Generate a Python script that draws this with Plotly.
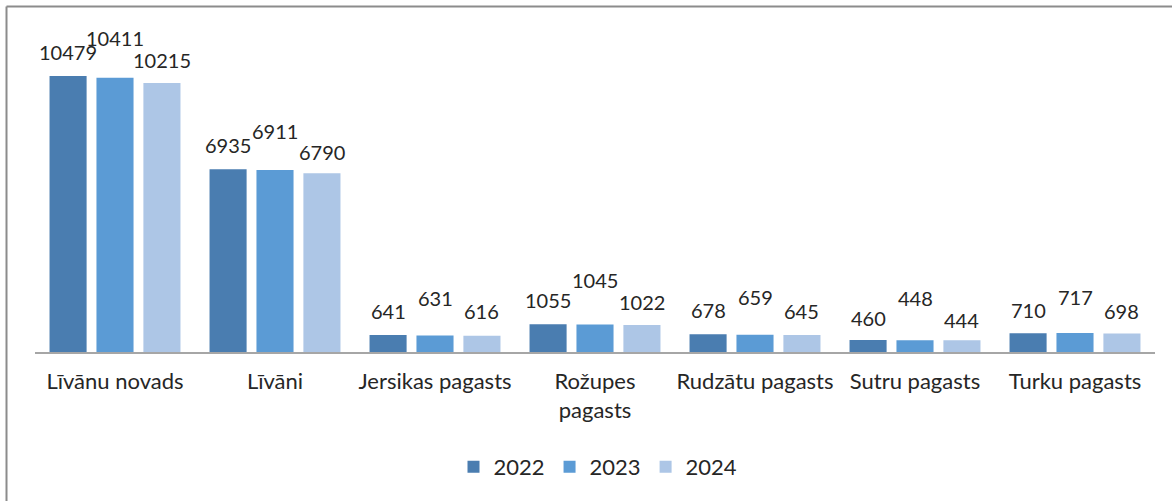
import plotly.graph_objects as go

categories = ["Līvānu novads", "Līvāni", "Jersikas pagasts", "Rožupes<br>pagasts",
              "Rudzātu pagasts", "Sutru pagasts", "Turku pagasts"]
years = ["2022", "2023", "2024"]
v2022 = [10479, 6935, 641, 1055, 678, 460, 710]
v2023 = [10411, 6911, 631, 1045, 659, 448, 717]
v2024 = [10215, 6790, 616, 1022, 645, 444, 698]

# label vertical offsets (px) to mimic staggered data labels
shift2022 = [24, 24, 24, 24, 24, 22, 23]
shift2023 = [40, 39, 37, 44, 38, 42, 36]
shift2024 = [23, 21, 25, 23, 24, 20, 23]

colors = ["#4a7db0", "#5b9bd5", "#adc6e6"]
series = [v2022, v2023, v2024]
shifts = [shift2022, shift2023, shift2024]
FONT = "Lato"

fig = go.Figure()
for yr, vals, col in zip(years, series, colors):
    fig.add_trace(go.Bar(name=yr, x=categories, y=vals, marker_color=col,
                         marker_line_width=0))

annotations = []
for j, (vals, shl) in enumerate(zip(series, shifts)):
    off = (j - 1) * 0.88 / 3
    for i, v in enumerate(vals):
        annotations.append(dict(x=i + off, y=v, xref="x", yref="y", text=str(v),
                                showarrow=False, yanchor="middle", yshift=shl[i],
                                font=dict(family=FONT, size=20, color="#262626")))

L, R, T, B = 35, 17, 20, 149
W, H = 1172, 501
pw, ph = W - L - R, H - T - B
def px(xp):
    return (xp - L) / pw
def py(yp):
    return (H - B - yp) / ph

shapes = [
    dict(type="line", xref="paper", yref="paper", x0=px(6.5), x1=px(W), y0=py(6.5), y1=py(6.5),
         line=dict(color="#8c8c8c", width=2)),
    dict(type="line", xref="paper", yref="paper", x0=px(6.5), x1=px(6.5), y0=py(6.5), y1=py(H),
         line=dict(color="#8c8c8c", width=2)),
]

fig.update_layout(
    width=W, height=H,
    margin=dict(l=L, r=R, t=T, b=B),
    paper_bgcolor="white", plot_bgcolor="white",
    barmode="group", bargap=0.12, bargroupgap=0.21,
    font=dict(family=FONT, size=19, color="#262626"),
    xaxis=dict(showline=True, linecolor="#a6a6a6", linewidth=2, ticks="",
               showgrid=False, tickfont=dict(family=FONT, size=22, color="#262626"),
               ticklabelstandoff=9),
    yaxis=dict(range=[0, 12605], visible=False, showgrid=False, zeroline=False),
    legend=dict(orientation="h", x=px(598), xanchor="center", y=py(467), yanchor="middle",
                font=dict(family=FONT, size=22, color="#262626"), itemwidth=30,
                tracegroupgap=0),
    annotations=annotations,
    shapes=shapes,
    showlegend=True,
)

fig.write_html("out.html", config={"displayModeBar": False},
               post_script="document.body.style.margin='0';document.body.style.padding='0';")
